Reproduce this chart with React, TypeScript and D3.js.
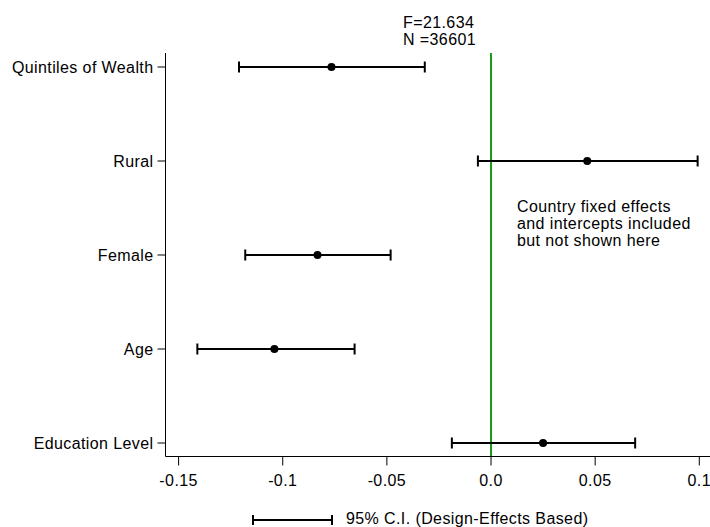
import React from "react";
import * as d3 from "d3";

const categories = ["Quintiles of Wealth", "Rural", "Female", "Age", "Education Level"];
const estimates = [-0.0766, 0.0462, -0.0833, -0.104, 0.025];
const lowerCI = [-0.121, -0.0063, -0.118, -0.141, -0.0188];
const upperCI = [-0.0318, 0.0992, -0.0482, -0.0655, 0.0692];
const xTicks = [-0.15, -0.1, -0.05, 0.0, 0.05, 0.1];
const xTickLabels = ["-0.15", "-0.1", "-0.05", "0.0", "0.05", "0.1"];
const headerLines = ["F=21.634", "N =36601"];
const noteLines = ["Country fixed effects", "and intercepts included", "but not shown here"];
const legendLabel = "95% C.I. (Design-Effects Based)";

const W = 710;
const H = 527;
const FONT = "'Liberation Sans', Arial, Helvetica, sans-serif";
const FS = 16;
const LS = 0.4;

export default function App() {
  const x = d3.scaleLinear().domain([-0.15, 0.1]).range([178.6, 699.3]);
  const y = d3.scalePoint<string>().domain(categories).range([67, 443]);
  const axisLeft = 165.5;
  const axisBottom = 456.5;
  const axisTop = 53;
  const cap = 5.5;
  const green = "#1a9a1a";

  return (
    <svg
      width={W}
      height={H}
      style={{ position: "absolute", left: 0, top: 0, background: "#fff" }}
      fontFamily={FONT}
      fontSize={FS}
      letterSpacing={LS}
    >
      <rect x={0} y={0} width={W} height={H} fill="#fff" />
      {/* header */}
      {headerLines.map((t, i) => (
        <text key={t} x={403} y={28 + i * 17} fill="#000">
          {t}
        </text>
      ))}
      {/* zero line */}
      <line x1={x(0)} x2={x(0)} y1={axisTop} y2={axisBottom} stroke={green} strokeWidth={2} />
      {/* y axis */}
      <line x1={axisLeft} x2={axisLeft} y1={axisTop} y2={axisBottom} stroke="#000" strokeWidth={1} />
      {categories.map((c) => (
        <g key={c}>
          <line x1={axisLeft - 8} x2={axisLeft} y1={y(c)!} y2={y(c)!} stroke="#000" strokeWidth={1} />
          <text x={axisLeft - 12} y={y(c)!} dy="0.35em" textAnchor="end" fill="#000">
            {c}
          </text>
        </g>
      ))}
      {/* x axis */}
      <line x1={axisLeft} x2={W} y1={axisBottom} y2={axisBottom} stroke="#000" strokeWidth={1} />
      {xTicks.map((t, i) => (
        <g key={t}>
          <line x1={x(t)} x2={x(t)} y1={axisBottom} y2={axisBottom + 9} stroke="#000" strokeWidth={1} />
          <text x={x(t)} y={486} textAnchor="middle" fill="#000">
            {xTickLabels[i]}
          </text>
        </g>
      ))}
      {/* error bars */}
      {categories.map((c, i) => {
        const yy = y(c)!;
        return (
          <g key={c}>
            <line x1={x(lowerCI[i])} x2={x(upperCI[i])} y1={yy} y2={yy} stroke="#000" strokeWidth={2} />
            <line x1={x(lowerCI[i])} x2={x(lowerCI[i])} y1={yy - cap} y2={yy + cap} stroke="#000" strokeWidth={2} />
            <line x1={x(upperCI[i])} x2={x(upperCI[i])} y1={yy - cap} y2={yy + cap} stroke="#000" strokeWidth={2} />
            <circle cx={x(estimates[i])} cy={yy} r={4} fill="#000" />
          </g>
        );
      })}
      {/* note */}
      {noteLines.map((t, i) => (
        <text key={t} x={517} y={212 + i * 17} fill="#000">
          {t}
        </text>
      ))}
      {/* legend */}
      <line x1={253} x2={332} y1={520} y2={520} stroke="#000" strokeWidth={2} />
      <line x1={253} x2={253} y1={515} y2={525} stroke="#000" strokeWidth={2} />
      <line x1={332} x2={332} y1={515} y2={525} stroke="#000" strokeWidth={2} />
      <text x={346} y={523.5} fill="#000">
        {legendLabel}
      </text>
    </svg>
  );
}
